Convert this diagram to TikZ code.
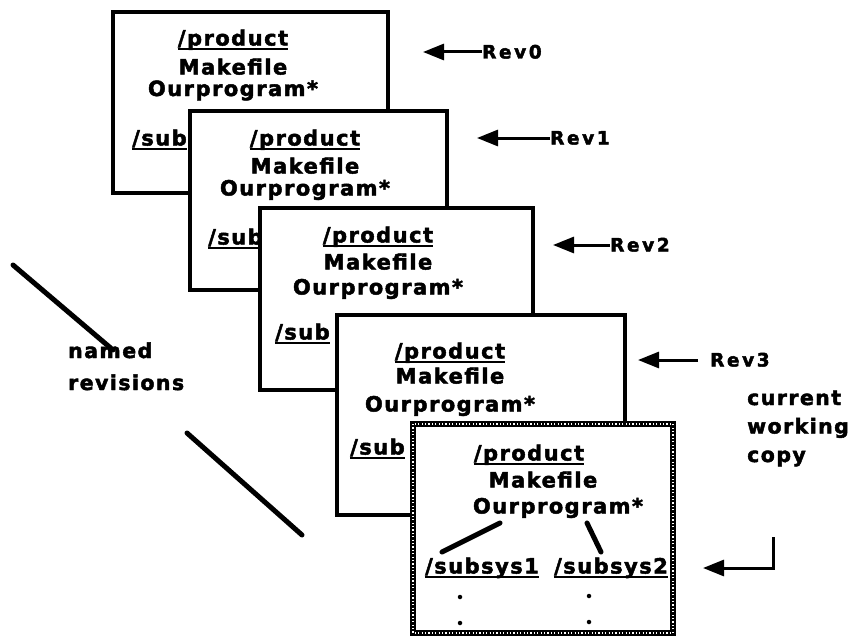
\documentclass[tikz,border=0pt]{standalone}
\usepackage{fontspec}
\usetikzlibrary{arrows.meta}
\newfontfamily\hf[LetterSpace=7,FakeBold=2.2]{DejaVu Sans Bold}
\newfontfamily\rf[LetterSpace=14,FakeBold=2.2]{DejaVu Sans Bold}
\tikzset{
  rbox/.style={draw=black, fill=white, line width=3.5pt},
  xbox/.style={draw=black, fill=white, line width=6pt},
  xdots/.style={draw=white, line width=1.1pt, dash pattern=on 1.2pt off 2.2pt},
  txt/.style={inner sep=0pt, anchor=base, font=\hf\fontsize{21}{24}\selectfont},
  txtw/.style={txt, anchor=base west},
  revt/.style={inner sep=0pt, anchor=base west, font=\rf\fontsize{18.5}{22}\selectfont},
  lbl/.style={inner sep=0pt, anchor=base west, align=left, font=\hf\fontsize{20.5}{32}\selectfont},
  ul/.style={line width=2.8pt},
  revarrow/.style={line width=3pt, -{Triangle[length=21pt,width=16pt]}},
  thick line/.style={line width=5pt, line cap=round},
  dotm/.style={circle, fill=black, inner sep=0pt, minimum size=4.5pt}
}
\newcommand{\ulnode}[1]{\draw[ul] ([yshift=-3.5pt]#1.base west) -- ([yshift=-3.5pt]#1.base east);}
\begin{document}
\begin{tikzpicture}[x=1pt,y=-1pt]
\useasboundingbox (0,0) rectangle (850,642);
% ---------- box 0
\draw[rbox] (113,12) rectangle (388,193);
\node[txt] (p0) at (233,45.5) {/product}; \ulnode{p0}
\node[txt] (m0) at (233,74.5) {Makefile};
\node[txt] (o0) at (233,96) {Ourprogram*};
\node[txtw] (s0) at (132,145.5) {/sub}; \ulnode{s0}
% ---------- box 1
\draw[rbox] (190,111) rectangle (447,290);
\node[txt] (p1) at (305,145.5) {/product}; \ulnode{p1}
\node[txt] (m1) at (305,173.5) {Makefile};
\node[txt] (o1) at (305,195.5) {Ourprogram*};
\node[txtw] (s1) at (208,244.5) {/sub}; \ulnode{s1}
% ---------- box 2
\draw[rbox] (260,208) rectangle (533,390);
\node[txt] (p2) at (378,242.5) {/product}; \ulnode{p2}
\node[txt] (m2) at (378,269.5) {Makefile};
\node[txt] (o2) at (378,294.5) {Ourprogram*};
\node[txtw] (s2) at (275,339.5) {/sub}; \ulnode{s2}
% ---------- box 3
\draw[rbox] (337,315) rectangle (625,515);
\node[txt] (p3) at (450,358.5) {/product}; \ulnode{p3}
\node[txt] (m3) at (450,383.5) {Makefile};
\node[txt] (o3) at (450,411.5) {Ourprogram*};
\node[txtw] (s3) at (350,454.5) {/sub}; \ulnode{s3}
% ---------- box 4 (current working copy)
\draw[xbox] (413,424) rectangle (673,633);
\draw[xdots] (413,424) rectangle (673,633);
\node[txt] (p4) at (529,460.5) {/product}; \ulnode{p4}
\node[txt] (m4) at (543,487.5) {Makefile};
\node[txt] (o4) at (558,513.5) {Ourprogram*};
\node[txt] (a4) at (482,573.5) {/subsys1}; \ulnode{a4}
\node[txt] (b4) at (611,573.5) {/subsys2}; \ulnode{b4}
\coordinate (o4l) at (500,523);
\coordinate (o4r) at (587,523);
\coordinate (a4t) at (442,552);
\coordinate (b4t) at (601,552);
\draw[thick line] (o4l) -- (a4t);
\draw[thick line] (o4r) -- (b4t);
\node[dotm] (d1) at (460,597) {};
\node[dotm] (d2) at (460,623) {};
\node[dotm] (d3) at (589,596) {};
\node[dotm] (d4) at (589,622) {};
% ---------- revision labels
\node[revt] (r0) at (482,58.5) {Rev0};
\node[revt] (r1) at (550,144.5) {Rev1};
\node[revt] (r2) at (610,251.5) {Rev2};
\node[revt] (r3) at (710,366.5) {Rev3};
\coordinate (t0) at (423,52);
\coordinate (t1) at (477,138);
\coordinate (t2) at (553,245);
\coordinate (t3) at (638,360);
\coordinate (e3) at (698,360);
\draw[revarrow] (r0.west |- t0) -- (t0);
\draw[revarrow] (r1.west |- t1) -- (t1);
\draw[revarrow] (r2.west |- t2) -- (t2);
\draw[revarrow] (e3) -- (t3);
% ---------- named revisions
\node[lbl] (nr) at (68,390) {named\\revisions};
\coordinate (n1a) at (13,265);
\coordinate (n1b) at (113,350);
\coordinate (n2a) at (187,433);
\coordinate (n2b) at (302,535);
\draw[thick line] (n1a) -- (n1b);
\draw[thick line] (n2a) -- (n2b);
% ---------- current working copy
\node[lbl, font=\hf\fontsize{20.5}{28.5}\selectfont] (cw) at (747,462) {current\\working\\copy};
\coordinate (c1) at (773,537);
\coordinate (c2) at (703,568);
\draw[line width=3pt, -{Triangle[length=21pt,width=16pt]}] (c1) |- (c2);
\end{tikzpicture}
\end{document}
